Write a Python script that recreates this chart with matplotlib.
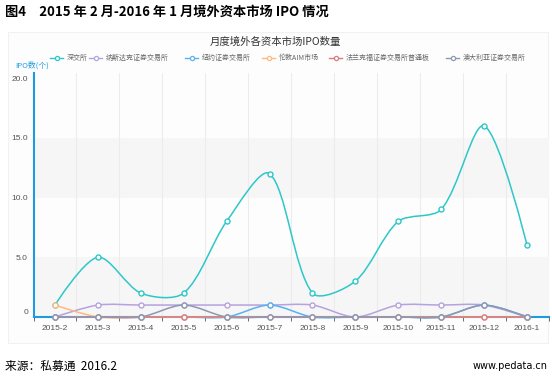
import numpy as np
import matplotlib
matplotlib.use('Agg')
import matplotlib.pyplot as plt
from matplotlib.path import Path
from matplotlib.patches import PathPatch, Rectangle
from matplotlib.transforms import ScaledTranslation

plt.rcParams['font.family'] = ['Noto Sans CJK SC', 'DejaVu Sans']

# ---------------------------------------------------------------------------- #
#                                     DATA                                     #
# ---------------------------------------------------------------------------- #
months = ['2015-2', '2015-3', '2015-4', '2015-5', '2015-6', '2015-7',
          '2015-8', '2015-9', '2015-10', '2015-11', '2015-12', '2016-1']
names = ['深交所', '纳斯达克证券交易所', '纽约证券交易所', '伦敦AIM市场',
         '法兰克福证券交易所普通板', '澳大利亚证券交易所']
szse = [1, 5, 2, 2, 8, 12, 2, 3, 8, 9, 16, 6]
nasdaq = [0, 1, 1, 1, 1, 1, 1, 0, 1, 1, 1, 0]
nyse = [0, 0, 0, 0, 0, 1, 0, 0, 0, 0, 1, 0]
aim = [1, 0, 0, 0, 0, 0, 0, 0, 0, 0, 0, 0]
frankfurt = [0, 0, 0, 0, 0, 0, 0, 0, 0, 0, 0, 0]
asx = [0, 0, 0, 1, 0, 0, 0, 0, 0, 0, 1, 0]
series = [szse, nasdaq, nyse, aim, frankfurt, asx]
colors = ['#2ec7c9', '#b6a2de', '#5ab1ef', '#ffb980', '#d87a80', '#8d98b3']
yticks = [0, 5, 10, 15, 20]
yticklabels = ['0', '5.0', '10.0', '15.0', '20.0']

# ---------------------------------------------------------------------------- #
#                                     PLOT                                     #
# ---------------------------------------------------------------------------- #
W, H = 552, 376
fig = plt.figure(figsize=(W/100, H/100), dpi=100)
axis_blue = '#1e9be0'
tick_font = 'Liberation Sans'

# faint chart container
fig.add_artist(Rectangle((8/W, 1-343/H), 540/W, 311/H, transform=fig.transFigure,
                         facecolor='#fdfdfd', edgecolor='#f1f1f1', lw=0.8, zorder=-5))

ax = fig.add_axes([33.5/W, 1-317/H, 515/W, 244/H])
ax.set_facecolor('none')
n = len(months)
x = np.arange(n)
ax.set_xlim(-0.5, n-0.5)
ax.set_ylim(0, 20.42)

# alternating bands
for i, (a, b) in enumerate(zip(yticks[:-1], yticks[1:])):
    if i % 2 == 0:
        ax.axhspan(a, b, color='#f6f6f6', zorder=0, lw=0)
for xb in np.arange(-0.5, n, 1.0)[1:]:
    ax.axvline(xb, color='#ececec', lw=0.8, zorder=0.5)

for s in ['top', 'right']:
    ax.spines[s].set_visible(False)
for s in ['left', 'bottom']:
    ax.spines[s].set_color(axis_blue)
    ax.spines[s].set_linewidth(1.5)
ax.spines['bottom'].set_zorder(1)

ax.set_xticks(np.arange(-0.5, n, 1.0), minor=True)
ax.set_xticks(x)
ax.set_xticklabels(months, fontsize=6, color='#555555', family=tick_font)
ax.tick_params(axis='x', which='major', length=0, pad=6)
ax.tick_params(axis='x', which='minor', length=3, color='#555555', width=0.6)
ax.set_yticks(yticks)
ax.set_yticklabels(yticklabels, fontsize=6, color='#555555', family=tick_font)
ax.tick_params(axis='y', length=0, pad=4)
lab0 = ax.get_yticklabels()[0]
lab0.set_transform(lab0.get_transform() + ScaledTranslation(0, 5/100, fig.dpi_scale_trans))


def smooth_path(xs, ys, k=0.3):
    # bezier smoothing in screen space, control points scaled by segment lengths
    pts = ax.transData.transform(np.column_stack([xs, ys]))
    cps = []
    for i in range(len(pts)):
        p = pts[i]
        if i == 0 or i == len(pts)-1:
            cps.append((p, p))
            continue
        v = (pts[i+1] - pts[i-1]) * k
        d0 = np.hypot(*(p - pts[i-1]))
        d1 = np.hypot(*(pts[i+1] - p))
        tot = d0 + d1
        if tot:
            d0, d1 = d0/tot, d1/tot
        cps.append((p - v*d0, p + v*d1))
    verts = [pts[0]]
    codes = [Path.MOVETO]
    for i in range(len(pts)-1):
        verts += [cps[i][1], cps[i+1][0], pts[i+1]]
        codes += [Path.CURVE4]*3
    verts = ax.transData.inverted().transform(np.array(verts))
    return Path(verts, codes)


for i, (vals, c) in enumerate(zip(series, colors)):
    ax.add_patch(PathPatch(smooth_path(x, vals), facecolor='none', edgecolor=c,
                           lw=1.1, zorder=3+i, clip_on=False))
    ax.plot(x, vals, ls='none', marker='o', ms=3.6, mfc='white', mec=c, mew=1.0,
            zorder=3.5+i, clip_on=False)

# titles and legend
fig.text(5/W, 1-12/H, '图4　2015 年 2 月-2016 年 1 月境外资本市场 IPO 情况',
         fontsize=9.5, fontweight='bold', va='center', ha='left')
fig.text(275.5/W, 1-42/H, '月度境外各资本市场IPO数量', fontsize=7.5,
         color='#333333', va='center', ha='center')
fig.text(15/W, 1-65/H, 'IPO数(个)', fontsize=5.6, color=axis_blue,
         va='center', ha='left')

leg_x = [50, 89, 185, 262, 329, 446]
ly = 1-58/H
for lx, name, c in zip(leg_x, names, colors):
    fig.add_artist(plt.Line2D([lx/W, (lx+13)/W], [ly, ly], color=c, lw=1.0,
                              transform=fig.transFigure))
    fig.add_artist(plt.Line2D([(lx+6.5)/W], [ly], marker='o', ms=3.0, mfc='white',
                              mec=c, mew=0.9, transform=fig.transFigure))
    fig.text((lx+17)/W, ly, name, fontsize=5, color='#666666',
             va='center', ha='left')

fig.text(5/W, 1-366/H, '来源：私募通  2016.2', fontsize=8.5, va='center', ha='left')
fig.text(548/W, 1-366/H, 'www.pedata.cn', fontsize=7, va='center', ha='right',
         family='DejaVu Sans')

plt.savefig('out.png', dpi=100)
plt.close('all')
